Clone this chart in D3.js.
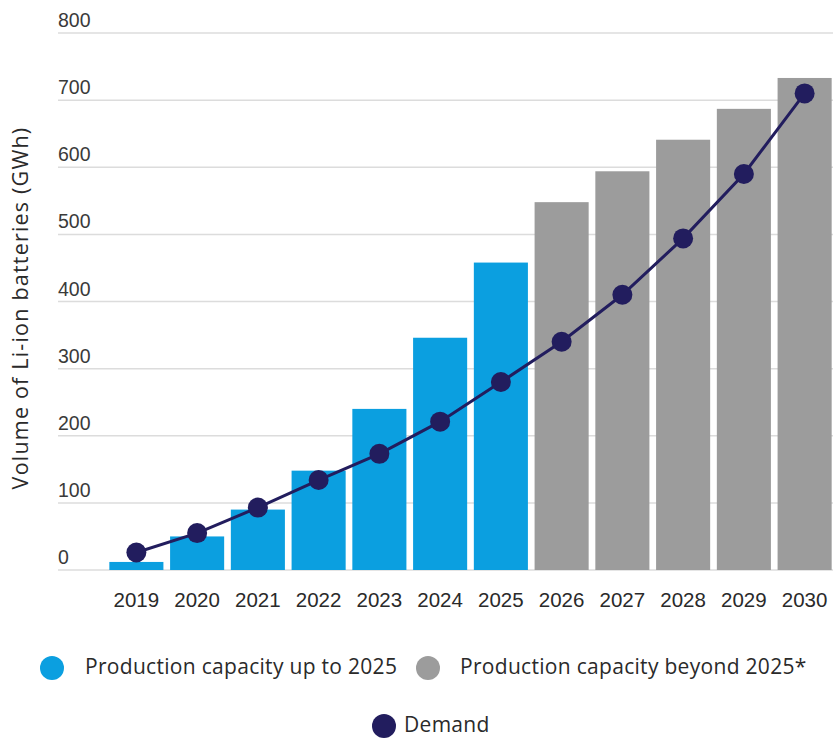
<!DOCTYPE html>
<html>
<head>
<meta charset="utf-8">
<script src="https://cdn.jsdelivr.net/npm/d3@7"></script>
<style>
  body { margin: 0; background: #fff; }
  text { font-family: "Open Sans", Lato, sans-serif; }
  .num { font-family: "Liberation Sans", Arial, sans-serif; }
</style>
</head>
<body>
<svg id="chart" width="833" height="740"></svg>
<script>
// data
var years = ['2019', '2020', '2021', '2022', '2023', '2024', '2025', '2026', '2027', '2028', '2029', '2030'];
var capacity = [12, 50, 90, 148, 240, 346, 458, 548, 594, 641, 687, 733];
var demand = [26, 55, 93, 134, 173, 221, 280, 340, 410, 494, 590, 710];
var yTicks = [0, 100, 200, 300, 400, 500, 600, 700, 800];
var lastPlannedYear = '2025';

var blue = '#0b9fe0';
var grey = '#9c9c9c';
var navy = '#221d5e';

var svg = d3.select('#chart');

var x = d3.scaleBand()
    .domain(years)
    .range([106, 835])
    .paddingInner(0.11)
    .paddingOuter(0.055);

var y = d3.scaleLinear()
    .domain([0, 800])
    .range([570, 33]);

// gridlines + tick labels
var grid = svg.append('g').attr('class', 'grid');
grid.selectAll('line')
    .data(yTicks).enter()
    .append('line')
    .attr('x1', 58)
    .attr('x2', 833)
    .attr('y1', d => y(d))
    .attr('y2', d => y(d))
    .attr('stroke', '#dcdcdc')
    .attr('stroke-width', 1.5);

grid.selectAll('text')
    .data(yTicks).enter()
    .append('text')
    .attr('class', 'num')
    .attr('x', 58)
    .attr('y', d => y(d) - 6)
    .style('font-size', '19.5px')
    .style('fill', '#3a3a3a')
    .text(d => d);

// y axis title
svg.append('text')
    .attr('transform', 'translate(' + [28, 308] + ')rotate(-90)')
    .attr('text-anchor', 'middle')
    .style('font-size', '21.5px')
    .style('letter-spacing', '1.2px')
    .style('fill', '#2a2a2a')
    .text('Volume of Li-ion batteries (GWh)');

// capacity bars
svg.append('g').selectAll('rect')
    .data(years).enter()
    .append('rect')
    .attr('x', d => x(d))
    .attr('width', x.bandwidth())
    .attr('y', (d, i) => y(capacity[i]))
    .attr('height', (d, i) => y(0) - y(capacity[i]))
    .attr('fill', d => +d <= +lastPlannedYear ? blue : grey);

// x labels
svg.append('g').selectAll('text')
    .data(years).enter()
    .append('text')
    .attr('class', 'num')
    .attr('x', d => x(d) + x.bandwidth() / 2)
    .attr('y', 607)
    .attr('text-anchor', 'middle')
    .style('font-size', '20.5px')
    .style('fill', '#2a2a2a')
    .text(d => d);

// demand line
var line = d3.line()
    .x((d, i) => x(years[i]) + x.bandwidth() / 2)
    .y(d => y(d));

svg.append('path')
    .datum(demand)
    .attr('d', line)
    .attr('fill', 'none')
    .attr('stroke', navy)
    .attr('stroke-width', 3);

svg.append('g').selectAll('circle')
    .data(demand).enter()
    .append('circle')
    .attr('cx', (d, i) => x(years[i]) + x.bandwidth() / 2)
    .attr('cy', d => y(d))
    .attr('r', 10)
    .attr('fill', navy);

// legend
var legendItems = [
    {label: 'Production capacity up to 2025', color: blue, cx: 52, cy: 668, tx: 85},
    {label: 'Production capacity beyond 2025*', color: grey, cx: 428, cy: 668, tx: 460},
    {label: 'Demand', color: navy, cx: 384, cy: 726, tx: 404}
];
var legend = svg.append('g').attr('class', 'legend');
legend.selectAll('circle')
    .data(legendItems).enter()
    .append('circle')
    .attr('cx', d => d.cx)
    .attr('cy', d => d.cy)
    .attr('r', 12)
    .attr('fill', d => d.color);
legend.selectAll('text')
    .data(legendItems).enter()
    .append('text')
    .attr('x', d => d.tx)
    .attr('y', d => d.cy + 6)
    .style('font-size', '21px')
    .style('letter-spacing', '0.3px')
    .style('fill', '#2a2a2a')
    .text(d => d.label);
</script>
</body>
</html>
